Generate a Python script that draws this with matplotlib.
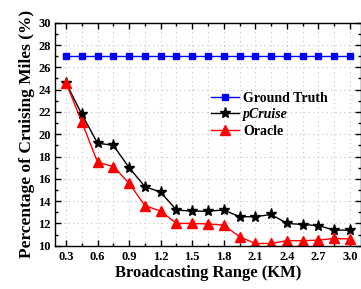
import matplotlib
matplotlib.use("Agg")
import matplotlib.pyplot as plt
from matplotlib.ticker import MultipleLocator, FixedLocator
import numpy as np

ranges = [0.3, 0.45, 0.6, 0.75, 0.9, 1.05, 1.2, 1.35, 1.5, 1.65, 1.8, 1.95, 2.1, 2.25, 2.4, 2.55, 2.7, 2.85, 3.0]
ground_truth = [27.0] * 19
pcruise = [24.6, 21.8, 19.2, 19.0, 17.0, 15.3, 14.8, 13.2, 13.1, 13.1, 13.2, 12.6, 12.6, 12.8, 12.0, 11.9, 11.8, 11.4, 11.4]
oracle = [24.6, 21.1, 17.5, 17.1, 15.6, 13.6, 13.1, 12.0, 12.0, 11.95, 11.85, 10.8, 10.2, 10.2, 10.45, 10.45, 10.5, 10.65, 10.6]
xtick_labels = ["0.3", "0.6", "0.9", "1.2", "1.5", "1.8", "2.1", "2.4", "2.7", "3.0"]

plt.rcParams['font.family'] = ['Liberation Serif', 'DejaVu Serif']
plt.rcParams['font.weight'] = 'bold'

fig = plt.figure(figsize=(3.61, 2.89), dpi=100)
ax = fig.add_axes([0.1537, 0.1498, 0.845, 0.7716])

ax.plot(ranges, ground_truth, color='#0000ff', marker='s', markersize=5, lw=1.0, label='Ground Truth')
ax.plot(ranges, pcruise, color='black', marker='*', markersize=8, lw=1.0, label='pCruise')
ax.plot(ranges, oracle, color='#ff0000', marker='^', markersize=7, lw=1.0, label='Oracle')

ax.set_xlim(0.2, 3.1)
ax.set_ylim(10, 30)
ax.xaxis.set_major_locator(FixedLocator([float(t) for t in xtick_labels]))
ax.set_xticklabels(xtick_labels)
ax.xaxis.set_minor_locator(MultipleLocator(0.15))
ax.yaxis.set_major_locator(MultipleLocator(2))
ax.yaxis.set_minor_locator(MultipleLocator(1))
ax.tick_params(which='both', direction='in', top=True, right=True, labelsize=9, width=1)
ax.tick_params(which='major', length=4)
ax.tick_params(which='minor', length=2)
for lab in ax.get_xticklabels() + ax.get_yticklabels():
    lab.set_fontweight('bold')

ax.grid(True, axis='x', which='both', linestyle=(0, (1, 3)), color='#c4c4c4', lw=0.8)
ax.grid(True, axis='y', which='major', linestyle=(0, (1, 3)), color='#c4c4c4', lw=0.8)
ax.set_axisbelow(True)
for s in ax.spines.values():
    s.set_linewidth(1.0)

ax.set_xlabel('Broadcasting Range (KM)', fontsize=12, fontweight='bold', labelpad=2)
ax.set_ylabel('Percentage of Cruising Miles (%)', fontsize=12.5, fontweight='bold', labelpad=2)

leg = ax.legend(loc='upper left', bbox_to_anchor=(0.51, 0.69), frameon=False,
                fontsize=10, handlelength=2.0, handletextpad=0.3, labelspacing=0.25,
                borderpad=0, borderaxespad=0)
for t in leg.get_texts():
    t.set_fontweight('bold')
    if t.get_text() == 'pCruise':
        t.set_fontstyle('italic')

fig.savefig('out.png', dpi=100)
